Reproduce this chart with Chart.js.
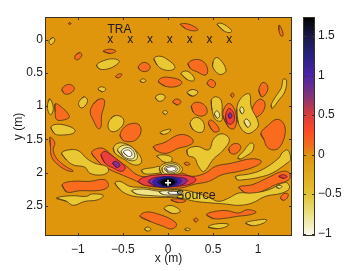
<!DOCTYPE html>
<html><head><meta charset="utf-8">
<style>
html,body{margin:0;padding:0;background:#fff;width:344px;height:271px;overflow:hidden}
canvas{position:absolute;top:0}
</style>
<script src="https://cdn.jsdelivr.net/npm/chart.js@4"></script>
</head><body>
<canvas id="map" width="344" height="271" style="left:0"></canvas>
<canvas id="bar" width="49" height="271" style="left:295px"></canvas>
<script>
const xRange=[-1.365,1.376];
const yRange=[-0.338,2.95];
const cRange=[-1.03,1.74];
const xTicks=[-1,-0.5,0,0.5,1];
const yTicks=[0,0.5,1,1.5,2,2.5];
const cTicks=[-1,-0.5,0,0.5,1,1.5];
const traX=[-0.64,-0.42,-0.2,0.02,0.24,0.46,0.68];
const traY=0;
const sourcePoint=[0,2.15];
const colorStops=[[-1.03,'#fbfbf5'],[-0.75,'#ebe182'],[-0.5,'#e2c332'],[-0.25,'#e1aa1e'],[0,'#de920c'],[0.1,'#f0701c'],[0.3,'#fb4a26'],[0.5,'#d83c3c'],[0.75,'#82327c'],[1,'#4b23aa'],[1.25,'#282082'],[1.5,'#191946'],[1.74,'#000000']];
const levelColors={bg:'#df950c',y:'#e9c832',o:'#f96c1e',p1:'#efe586',p2:'#f5f2c4',w:'#ffffff',r:'#ea3f3c',v:'#8a2f8c',b:'#3c20b0',n:'#181a60',k:'#000000'};
const domain=[[-1.365,-0.338],[1.376,-0.338],[1.376,2.95],[-1.365,2.95],[-1.365,-0.338]];
const orangeBlobs=[
[[-1.09,-0.255],[-1.075,-0.24],[-1.09,-0.225],[-1.105,-0.24]],
[[-0.978,0.195],[-0.956,0.235],[-0.996,0.3],[-1.033,0.29],[-1.026,0.235]],
[[-0.719,0.175],[-0.644,0.145],[-0.578,0.175],[-0.644,0.21]],
[[-0.581,0.56],[-0.552,0.52],[-0.511,0.52],[-0.533,0.565],[-0.563,0.575]],
[[-0.33,0.41],[-0.274,0.345],[-0.211,0.375],[-0.2,0.435],[-0.248,0.48],[-0.311,0.46]],
[[-0.107,0.635],[-0.07,0.575],[0.022,0.57],[0.133,0.61],[0.152,0.66],[0.078,0.71],[-0.033,0.7]],
[[-1.178,0.75],[-1.126,0.68],[-1.059,0.69],[-1.041,0.75],[-1.096,0.815],[-1.152,0.81]],
[[-1.252,0.965],[-1.163,1.035],[-1.1,1.135],[-1.096,1.17],[-1.163,1.21],[-1.237,1.2],[-1.252,1.085]],
[[-0.774,0.9],[-0.711,0.9],[-0.707,0.985],[-0.737,1.135],[-0.744,1.31],[-0.774,1.34],[-0.83,1.21],[-0.863,1.085],[-0.83,0.97]],
[[-0.533,1.434],[-0.478,1.309],[-0.385,1.258],[-0.319,1.284],[-0.3,1.384],[-0.348,1.498],[-0.422,1.535],[-0.503,1.509]],
[[-1.311,1.468],[-1.256,1.548],[-1.274,1.658],[-1.237,1.783],[-1.144,1.898],[-1.052,1.973],[-1.107,1.973],[-1.219,1.883],[-1.293,1.758],[-1.304,1.608]],
[[-0.848,1.705],[-0.793,1.64],[-0.711,1.64],[-0.589,1.78],[-0.459,1.905],[-0.33,2.04],[-0.2,2.055],[-0.015,2.005],[0.152,2.005],[0.267,2.055],[0.415,2.005],[0.526,1.905],[0.711,1.855],[0.933,1.79],[1.037,1.83],[0.97,1.905],[0.785,1.98],[0.6,2.03],[0.452,2.13],[0.304,2.17],[0.133,2.23],[-0.089,2.22],[-0.237,2.19],[-0.385,2.105],[-0.533,2.02],[-0.644,1.955],[-0.756,1.855]],
[[-0.163,1.608],[-0.033,1.543],[0.115,1.433],[0.226,1.448],[0.281,1.533],[0.226,1.593],[0.115,1.633],[-0.015,1.708],[-0.126,1.673]],
[[0.674,1.64],[0.73,1.565],[0.796,1.58],[0.804,1.64],[0.748,1.715],[0.693,1.705]],
[[1.03,1.408],[1.115,1.283],[1.207,1.198],[1.281,1.258],[1.3,1.408],[1.244,1.608],[1.17,1.658],[1.096,1.608],[1.067,1.508]],
[[0.785,2.215],[0.933,2.18],[1.1,2.08],[1.267,1.98],[1.348,2.005],[1.341,2.105],[1.193,2.18],[1.081,2.255],[0.952,2.32],[0.841,2.29]],
[[1.248,2.38],[1.285,2.315],[1.333,2.32],[1.322,2.38],[1.278,2.415]],
[[0.426,2.63],[0.526,2.58],[0.656,2.57],[0.785,2.605],[0.878,2.555],[0.978,2.59],[0.915,2.63],[0.767,2.655],[0.656,2.68],[0.507,2.69]],
[[0.285,2.705],[0.311,2.68],[0.333,2.71],[0.307,2.74]],
[[-1.174,2.18],[-1.07,2.13],[-0.867,2.13],[-0.7,2.105],[-0.663,2.205],[-0.756,2.265],[-0.978,2.27],[-1.126,2.29]],
[[-0.311,2.655],[-0.237,2.59],[-0.089,2.63],[0.041,2.705],[0.096,2.78],[0.041,2.845],[-0.052,2.805],[-0.2,2.73]],
[[0.03,2.408],[0.115,2.393],[0.2,2.423],[0.115,2.448]],
[[0.178,1.858],[0.215,1.843],[0.244,1.873],[0.207,1.888]],
[[0.137,-0.23],[0.23,-0.23],[0.333,-0.15],[0.285,-0.13],[0.193,-0.165]],
[[1.233,-0.215],[1.259,-0.165],[1.278,-0.065],[1.256,-0.05],[1.23,-0.14]],
[[0.222,0.36],[0.304,0.3],[0.396,0.335],[0.441,0.46],[0.415,0.535],[0.322,0.485],[0.248,0.435]],
[[0.433,0.66],[0.47,0.6],[0.526,0.65],[0.507,0.72],[0.459,0.7]],
[[0.052,0.938],[0.096,0.893],[0.144,0.933],[0.104,0.983]],
[[0.696,0.835],[0.715,0.8],[0.733,0.835],[0.715,0.87]],
[[1.007,0.76],[1.052,0.645],[1.107,0.7],[1.089,0.81],[1.037,0.86]],
[[0.926,1.06],[1.007,0.9],[1.07,0.935],[1.063,1.06],[0.989,1.16],[0.933,1.135]],
[[0.259,1.0],[0.322,0.94],[0.415,1.0],[0.43,1.11],[0.359,1.15],[0.285,1.1]],
[[0.607,1.135],[0.656,0.97],[0.711,0.985],[0.759,1.16],[0.737,1.335],[0.674,1.32]],
[[0.448,1.258],[0.474,1.208],[0.541,1.283],[0.567,1.368],[0.504,1.383]]
];
const yellowBlobs=[
[[-1.274,-0.03],[-1.256,0.01],[-1.293,0.075],[-1.319,0.05],[-1.311,0]],
[[-0.793,0.385],[-0.719,0.32],[-0.607,0.29],[-0.541,0.325],[-0.589,0.395],[-0.681,0.445],[-0.763,0.44]],
[[-0.156,0.285],[-0.089,0.25],[0.004,0.31],[0.078,0.41],[0.041,0.46],[-0.052,0.45],[-0.119,0.385]],
[[-0.311,0.62],[-0.274,0.59],[-0.244,0.62],[-0.281,0.645]],
[[-0.778,0.745],[-0.737,0.71],[-0.689,0.745],[-0.73,0.785]],
[[-0.141,0.87],[-0.089,0.82],[-0.033,0.85],[-0.052,0.91],[-0.107,0.925]],
[[-0.059,1.095],[-0.03,1.065],[-0.004,1.095],[-0.033,1.125]],
[[-1.311,0.89],[-1.274,1.01],[-1.285,1.11],[-1.311,1.125],[-1.337,1.035],[-1.33,0.935]],
[[-0.93,0.86],[-0.893,0.91],[-0.922,1.0],[-0.967,1.025],[-0.993,0.96],[-0.967,0.895]],
[[-0.593,1.145],[-0.519,1.16],[-0.489,1.235],[-0.533,1.335],[-0.607,1.385],[-0.656,1.345],[-0.663,1.26],[-0.633,1.185]],
[[-1.3,1.318],[-1.237,1.273],[-1.111,1.298],[-1.033,1.358],[-1.052,1.408],[-1.163,1.433],[-1.256,1.418]],
[[-1.181,1.708],[-1.107,1.658],[-0.996,1.668],[-0.904,1.783],[-0.811,1.858],[-0.681,1.908],[-0.663,1.983],[-0.737,2.033],[-0.867,2.008],[-0.922,1.918],[-1.052,1.883],[-1.126,1.808]],
[[-0.607,1.63],[-0.552,1.555],[-0.441,1.58],[-0.348,1.68],[-0.293,1.805],[-0.311,1.87],[-0.385,1.88],[-0.478,1.805],[-0.589,1.705]],
[[-0.589,2.155],[-0.533,2.13],[-0.422,2.205],[-0.274,2.22],[-0.089,2.255],[0.133,2.255],[0.319,2.305],[0.467,2.38],[0.563,2.43],[0.674,2.38],[0.785,2.305],[0.933,2.305],[1.119,2.255],[1.304,2.145],[1.348,2.23],[1.267,2.305],[1.081,2.355],[0.933,2.455],[0.785,2.49],[0.637,2.47],[0.489,2.455],[0.304,2.43],[0.133,2.38],[-0.089,2.37],[-0.311,2.365],[-0.441,2.33],[-0.533,2.255]],
[[-0.293,1.958],[-0.163,1.923],[-0.089,1.908],[-0.07,1.983],[-0.181,2.018],[-0.274,2.008]],
[[-0.126,1.748],[-0.033,1.733],[0.041,1.773],[0.03,1.843],[-0.052,1.833],[-0.096,1.783]],
[[-0.096,1.933],[-0.033,1.858],[0.078,1.848],[0.159,1.933],[0.133,2.008],[0.022,2.033],[-0.07,2.018]],
[[0.211,1.655],[0.322,1.605],[0.452,1.655],[0.507,1.49],[0.6,1.415],[0.681,1.505],[0.6,1.68],[0.507,1.79],[0.396,1.98],[0.333,1.89],[0.296,1.78],[0.222,1.74]],
[[0.774,1.78],[0.841,1.67],[0.915,1.555],[0.952,1.58],[0.933,1.68],[0.859,1.755],[0.804,1.795]],
[[0.748,2.055],[0.896,2.02],[1.044,1.955],[1.23,1.78],[1.267,1.7],[1.33,1.66],[1.36,1.8],[1.322,1.855],[1.156,2.005],[1.007,2.07],[0.841,2.105],[0.767,2.105]],
[[0.444,2.815],[0.526,2.77],[0.667,2.77],[0.656,2.805],[0.544,2.84]],
[[0.859,2.755],[0.97,2.715],[1.093,2.705],[1.063,2.755],[0.933,2.795]],
[[0.185,2.85],[0.215,2.83],[0.248,2.85],[0.215,2.87]],
[[-1.237,2.38],[-1.07,2.345],[-0.904,2.355],[-0.848,2.32],[-0.719,2.34],[-0.774,2.405],[-0.922,2.43],[-1.052,2.49],[-1.126,2.43]],
[[-0.263,2.845],[-0.219,2.815],[-0.189,2.855],[-0.23,2.875]],
[[-0.044,2.54],[0.022,2.49],[0.115,2.54],[0.133,2.59],[0.041,2.61]],
[[-0.089,1.4],[-0.033,1.36],[0.03,1.35],[0.004,1.4],[-0.052,1.425]],
[[0.215,0.798],[0.263,0.758],[0.326,0.783],[0.3,0.838],[0.244,0.843]],
[[0.544,-0.23],[0.6,-0.24],[0.704,-0.14],[0.693,-0.105],[0.619,-0.13]],
[[0.5,0.335],[0.537,0.27],[0.6,0.335],[0.644,0.46],[0.619,0.51],[0.563,0.52],[0.496,0.41]],
[[0.144,0.51],[0.211,0.475],[0.285,0.56],[0.285,0.62],[0.211,0.6]],
[[0.211,0.8],[0.274,0.75],[0.333,0.79],[0.274,0.85]],
[[1.144,0.985],[1.193,0.86],[1.259,0.72],[1.278,0.595],[1.315,0.61],[1.296,0.785],[1.23,0.91],[1.156,1.035]],
[[0.481,0.91],[0.526,0.86],[0.589,0.91],[0.6,1.11],[0.593,1.22],[0.526,1.2],[0.489,1.06]],
[[0.763,1.033],[0.819,0.868],[0.904,0.818],[0.922,1.008],[1.004,1.258],[0.967,1.358],[0.874,1.408],[0.781,1.258]],
[[0.244,1.258],[0.3,1.173],[0.374,1.208],[0.404,1.308],[0.374,1.393],[0.281,1.358]]
];
const paleBlobs=[
[[-0.56,1.66],[-0.5,1.59],[-0.42,1.6],[-0.35,1.7],[-0.345,1.79],[-0.41,1.82],[-0.5,1.76]],
[[-0.067,1.933],[-0.015,1.878],[0.078,1.873],[0.133,1.933],[0.104,1.998],[0.004,2.018],[-0.052,1.998]],
[[-0.404,2.27],[-0.274,2.245],[-0.089,2.28],[0.096,2.29],[0.152,2.33],[0.022,2.355],[-0.163,2.345],[-0.348,2.32]],
[[0.515,1.12],[0.544,1.07],[0.574,1.135],[0.548,1.185]],
[[0.796,1.058],[0.819,1.008],[0.844,1.068],[0.822,1.118]],
[[0.844,1.233],[0.874,1.193],[0.915,1.273],[0.881,1.318]],
[[1.2,2.215],[1.23,2.19],[1.265,2.205],[1.235,2.235]]
];
const paler=[
[[-0.52,1.68],[-0.47,1.625],[-0.41,1.64],[-0.37,1.72],[-0.38,1.78],[-0.44,1.79],[-0.5,1.74]],
[[-0.041,1.938],[0.004,1.898],[0.067,1.898],[0.107,1.938],[0.078,1.988],[0.004,1.998]],
[[-0.1,2.285],[0.02,2.27],[0.13,2.285],[0.17,2.32],[0.05,2.335],[-0.06,2.325]]
];
const whiteBlobs=[
[[-0.495,1.69],[-0.46,1.66],[-0.42,1.67],[-0.4,1.72],[-0.41,1.75],[-0.45,1.75]],
[[-0.022,1.938],[0.022,1.913],[0.067,1.913],[0.089,1.943],[0.059,1.973],[0.004,1.973]],
[[0.0,2.29],[0.06,2.28],[0.14,2.295],[0.15,2.315],[0.07,2.325],[0.01,2.315]]
];
const redBlobs=[
[[-0.744,1.73],[-0.7,1.68],[-0.626,1.74],[-0.515,1.855],[-0.474,1.93],[-0.515,1.98],[-0.607,1.93],[-0.7,1.855]],
[[-0.33,2.133],[-0.274,2.073],[-0.126,2.033],[0.115,2.033],[0.263,2.058],[0.311,2.108],[0.244,2.173],[0.059,2.208],[-0.126,2.208],[-0.274,2.183]],
[[1.23,2.055],[1.278,2.03],[1.322,2.055],[1.285,2.085]],
[[0.637,1.15],[0.674,1.035],[0.722,1.085],[0.737,1.2],[0.704,1.27],[0.656,1.25]]
];
const violetBlobs=[
[[-0.615,1.855],[-0.57,1.83],[-0.533,1.89],[-0.57,1.92]],
[[-0.219,2.133],[-0.126,2.068],[0.115,2.068],[0.215,2.108],[0.17,2.173],[0.004,2.213],[-0.144,2.198]],
[[0.667,1.135],[0.689,1.1],[0.711,1.15],[0.685,1.185]]
];
const blueBlobs=[[[-0.17,2.133],[-0.089,2.073],[0.078,2.073],[0.152,2.123],[0.078,2.193],[-0.052,2.213],[-0.133,2.193]]];
const navyBlobs=[[[-0.119,2.143],[-0.052,2.083],[0.059,2.083],[0.107,2.133],[0.052,2.193],[-0.052,2.203]]];
const blackBlobs=[[[-0.078,2.143],[-0.015,2.098],[0.052,2.108],[0.074,2.148],[0.022,2.188],[-0.044,2.188]]];

const fmt=v=>String(v).replace('-','\u2212');
const font={family:'"Liberation Sans",Arial,sans-serif',size:12};
const ink='#1c1c1c';
function contourSet(list,key,line){
  return list.map(p=>({data:[p[p.length-1]].concat(p,[p[0]]).map(q=>({x:q[0],y:q[1]})),showLine:true,fill:'shape',tension:0.4,
    backgroundColor:levelColors[key],borderColor:line,borderWidth:key==='bg'?0:0.8,pointRadius:0,pointHoverRadius:0,borderJoinStyle:'round'}));
}
const edge='#4a3414';
const layers=[].concat(
  contourSet([domain],'bg','rgba(0,0,0,0)').map(d=>Object.assign(d,{tension:0})),
  contourSet(orangeBlobs,'o',edge),contourSet(yellowBlobs,'y',edge),
  contourSet(paleBlobs,'p1',edge),contourSet(paler,'p2',edge),contourSet(whiteBlobs,'w',edge),
  contourSet(redBlobs,'r','#5a1a20'),contourSet(violetBlobs,'v','#3a1440'),
  contourSet(blueBlobs,'b','#2a1a80'),contourSet(navyBlobs,'n','#181a60'),contourSet(blackBlobs,'k','#000')
);
layers.forEach((d,i)=>{d.order=layers.length-i;});
layers.push({data:[{x:sourcePoint[0],y:sourcePoint[1]}],pointStyle:'cross',pointRadius:3,pointBorderColor:'#fff',pointBorderWidth:1.5,showLine:false,order:-1});

function frameTicks(chart,axes){
  const {ctx,chartArea:a}=chart;
  ctx.save();ctx.strokeStyle='#3c3224';ctx.lineWidth=1;
  ctx.strokeRect(a.left+.5,a.top+.5,a.right-a.left-1,a.bottom-a.top-1);
  ctx.beginPath();
  axes.forEach(([id,vals])=>{const s=chart.scales[id];vals.forEach(v=>{const p=Math.round(s.getPixelForValue(v))+.5;
    if(s.isHorizontal()){ctx.moveTo(p,a.top);ctx.lineTo(p,a.top+3);ctx.moveTo(p,a.bottom);ctx.lineTo(p,a.bottom-3);}
    else{ctx.moveTo(a.left,p);ctx.lineTo(a.left+3,p);ctx.moveTo(a.right,p);ctx.lineTo(a.right-3,p);}
  });});
  ctx.stroke();ctx.restore();
}
const overlay={id:'overlay',afterDatasetsDraw(chart){
  frameTicks(chart,[['x',xTicks],['y',yTicks]]);
  const {ctx,scales:{x,y}}=chart;
  ctx.save();ctx.fillStyle=ink;ctx.font='12px "Liberation Sans",Arial,sans-serif';ctx.textAlign='center';ctx.textBaseline='middle';
  traX.forEach(v=>ctx.fillText('x',x.getPixelForValue(v),y.getPixelForValue(traY)));
  ctx.textBaseline='alphabetic';
  ctx.fillText('TRA',x.getPixelForValue(-0.538),y.getPixelForValue(-0.093));
  ctx.textAlign='left';ctx.font='12.5px "Liberation Sans",Arial,sans-serif';
  ctx.fillText('Source',x.getPixelForValue(0.09),y.getPixelForValue(2.395));
  ctx.restore();
}};
const noGrid={display:false,drawTicks:false,tickLength:0};
new Chart(document.getElementById('map'),{
  type:'scatter',
  data:{datasets:layers},
  plugins:[overlay],
  options:{responsive:false,animation:false,events:[],
    layout:{padding:{top:17,right:52,left:11,bottom:5}},
    plugins:{legend:{display:false},tooltip:{enabled:false}},
    scales:{
      x:{type:'linear',min:xRange[0],max:xRange[1],grid:noGrid,border:{display:false},
        afterBuildTicks:s=>{s.ticks=xTicks.map(v=>({value:v}));},
        afterFit:s=>{s.height=30;},
        ticks:{callback:fmt,color:ink,font,padding:6,maxRotation:0,autoSkip:false},
        title:{display:true,text:'x (m)',color:ink,font,padding:{top:1,bottom:0}}},
      y:{type:'linear',reverse:true,min:yRange[0],max:yRange[1],grid:noGrid,border:{display:false},
        afterBuildTicks:s=>{s.ticks=yTicks.map(v=>({value:v}));},
        afterFit:s=>{s.width=34;},
        ticks:{callback:fmt,color:ink,font,padding:2,autoSkip:false},
        title:{display:true,text:'y (m)',color:ink,font,padding:{top:0,bottom:2}}}
    }}
});
const barFrame={id:'barFrame',afterDatasetsDraw(chart){frameTicks(chart,[['y',cTicks]]);}};
new Chart(document.getElementById('bar'),{
  type:'bar',
  data:{labels:['c'],datasets:[{data:[cRange],barPercentage:1,categoryPercentage:1,borderWidth:0,
    backgroundColor(ctx){
      const {chart}=ctx;if(!chart.chartArea)return '#fff';
      const s=chart.scales.y,g=chart.ctx.createLinearGradient(0,s.getPixelForValue(cRange[0]),0,s.getPixelForValue(cRange[1]));
      colorStops.forEach(([v,c])=>g.addColorStop((v-cRange[0])/(cRange[1]-cRange[0]),c));
      return g;
    }}]},
  plugins:[barFrame],
  options:{responsive:false,animation:false,events:[],
    layout:{padding:{top:17,bottom:35,left:8,right:0}},
    plugins:{legend:{display:false},tooltip:{enabled:false}},
    scales:{
      x:{display:false},
      y:{position:'right',min:cRange[0],max:cRange[1],grid:noGrid,border:{display:false},
        afterBuildTicks:s=>{s.ticks=cTicks.map(v=>({value:v}));},
        afterFit:s=>{s.width=29;},
        ticks:{callback:fmt,color:ink,font,padding:3,autoSkip:false}}
    }}
});
</script>
</body></html>
